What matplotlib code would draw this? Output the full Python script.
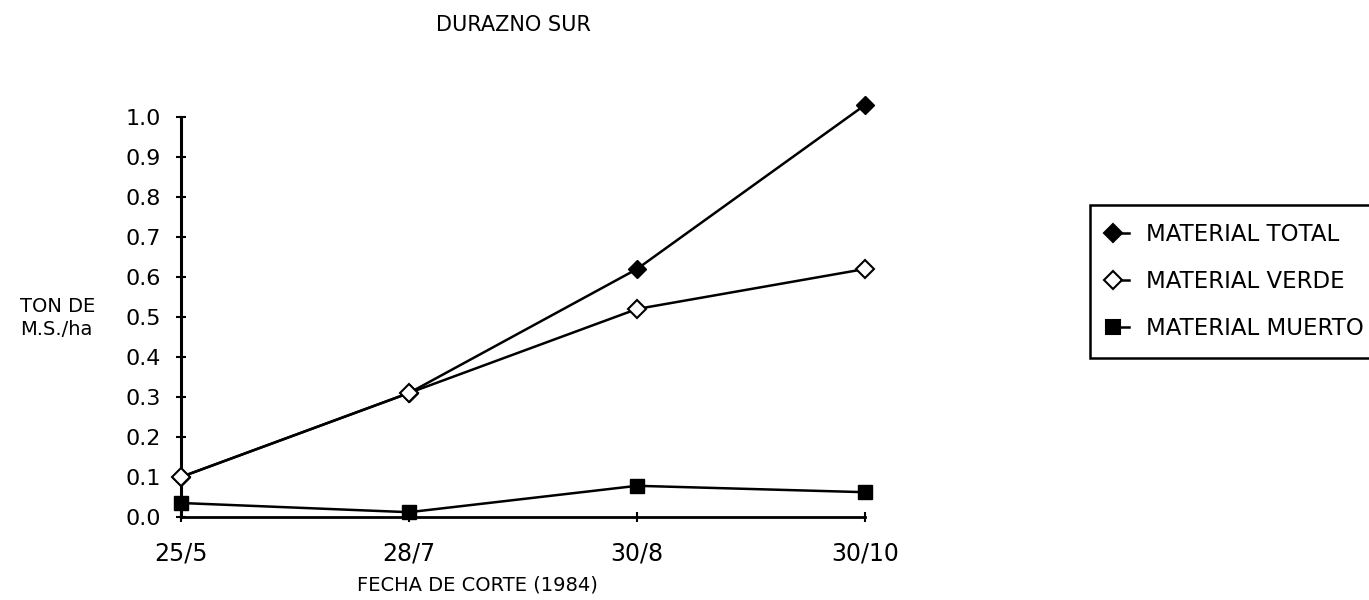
import matplotlib.pyplot as plt
from matplotlib.lines import Line2D
from matplotlib.legend_handler import HandlerBase

# fechas de corte y valores (ton M.S./ha)
fechas = ["25/5", "28/7", "30/8", "30/10"]
material_total = [0.10, 0.31, 0.62, 1.03]
material_verde = [0.10, 0.31, 0.52, 0.62]
material_muerto = [0.035, 0.012, 0.078, 0.062]
y_ticks = [0.0, 0.1, 0.2, 0.3, 0.4, 0.5, 0.6, 0.7, 0.8, 0.9, 1.0]


class MarkerDashHandler(HandlerBase):
    """Legend handle drawn as marker followed by a short dash"""
    def create_artists(self, legend, orig_handle, xdescent, ydescent,
                       width, height, fontsize, trans):
        x0 = -xdescent
        y = height / 2 - ydescent
        mk = Line2D([x0 + width * 0.25], [y], marker=orig_handle.get_marker(),
                    markersize=orig_handle.get_markersize(),
                    markerfacecolor=orig_handle.get_markerfacecolor(),
                    markeredgecolor="black", markeredgewidth=1.5,
                    linestyle="none", transform=trans)
        dash = Line2D([x0 + width * 0.6, x0 + width * 1.0], [y, y],
                      color="black", lw=1.8, transform=trans)
        return [mk, dash]


fig = plt.figure(figsize=(13.69, 6), dpi=100)
ax = fig.add_axes([181 / 1369, 1 - 517 / 600, (865 - 181) / 1369, 400 / 600])

x = range(len(fechas))
h_total, = ax.plot(x, material_total, color="black", lw=1.8, marker="D",
                   markersize=9, markerfacecolor="black", markeredgecolor="black",
                   clip_on=False, zorder=3)
h_verde, = ax.plot(x, material_verde, color="black", lw=1.8, marker="D",
                   markersize=9, markerfacecolor="white", markeredgecolor="black",
                   markeredgewidth=1.5, clip_on=False, zorder=4)
h_muerto, = ax.plot(x, material_muerto, color="black", lw=1.8, marker="s",
                    markersize=10, markerfacecolor="black", markeredgecolor="black",
                    clip_on=False, zorder=3)

ax.set_xlim(0, 3)
ax.set_ylim(0, 1.0)
ax.set_xticks(list(x))
ax.set_xticklabels(fechas)
ax.set_yticks(y_ticks)
ax.set_yticklabels([f"{v:.1f}" for v in y_ticks])

for s in ["top", "right"]:
    ax.spines[s].set_visible(False)
ax.spines["left"].set_linewidth(2.2)
ax.spines["bottom"].set_linewidth(2)
ax.tick_params(axis="y", direction="inout", length=7, width=1.5, pad=11, labelsize=16)
ax.tick_params(axis="x", direction="inout", length=7, width=1.5, pad=14, labelsize=17)

fig.text(513 / 1369, 1 - 25 / 600, "DURAZNO SUR", ha="center", va="center", fontsize=15)
fig.text(20 / 1369, 1 - 318 / 600, "TON DE\nM.S./ha", ha="left", va="center",
         fontsize=14, linespacing=1.3)
fig.text(477 / 1369, 1 - 585 / 600, "FECHA DE CORTE (1984)", ha="center", va="center",
         fontsize=14)

leg = fig.legend([h_total, h_verde, h_muerto],
                 ["MATERIAL TOTAL", "MATERIAL VERDE", "MATERIAL MUERTO"],
                 handler_map={Line2D: MarkerDashHandler()},
                 loc="upper left", bbox_to_anchor=(1090 / 1369, 1 - 205 / 600),
                 borderaxespad=0, fancybox=False, framealpha=1, fontsize=16.5,
                 handlelength=0.9, handletextpad=0.75, labelspacing=1.03,
                 borderpad=0.8)
leg.get_frame().set_edgecolor("black")
leg.get_frame().set_linewidth(1.8)

plt.savefig("out.png", dpi=100)
